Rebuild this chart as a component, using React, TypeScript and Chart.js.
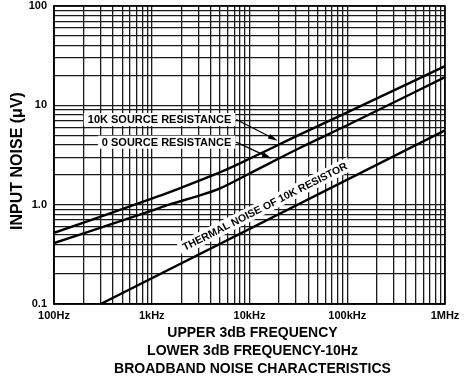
import { useEffect, useRef } from "react";
import { Chart, registerables } from "chart.js";

Chart.register(...registerables);

// ---- axis ticks ----
const freqDecades = [100, 1000, 10000, 100000, 1000000];
const freqLabels = ["100Hz", "1kHz", "10kHz", "100kHz", "1MHz"];
const noiseDecades = [0.1, 1, 10, 100];
const noiseLabels = ["0.1", "1.0", "10", "100"];

// ---- series (Hz, µV) ----
const src10kFreq = [100, 1000, 1500, 3100, 5000, 10000, 33000, 100000, 1000000];
const src10kNoise = [0.52, 1.15, 1.33, 1.76, 2.12, 2.9, 5.1, 8.5, 24.8];

const src0Freq = [100, 1000, 1500, 3100, 5000, 10000, 33000, 100000, 1000000];
const src0Noise = [0.41, 0.87, 1.0, 1.24, 1.46, 2.06, 3.74, 6.3, 19.2];

const thermalFreq = [300, 1000000];
const thermalNoise = [0.1, 5.6];

// ---- texts ----
const yTitle = "INPUT NOISE (\u03BCV)";
const xTitleLines = [
  "UPPER 3dB FREQUENCY",
  "LOWER 3dB FREQUENCY-10Hz",
  "BROADBAND NOISE CHARACTERISTICS",
];
const label10k = "10K SOURCE RESISTANCE";
const label0 = "0 SOURCE RESISTANCE";
const labelThermal = "THERMAL NOISE OF 10K RESISTOR";

// annotation anchors in data units [freq, noise]
const label10kAnchor = [6500, 7.2];
const label10kArrowTip = [19500, 4.4];
const label0Anchor = [6500, 4.26];
const label0ArrowTip = [16900, 2.9];
const thermalLabelFreq = 16500;

const FONT = '"Liberation Sans", Arial, Helvetica, sans-serif';

function logGrid(min: number, max: number): number[] {
  const out: number[] = [];
  for (let d = min; d < max * 0.999; d *= 10) {
    for (let m = 1; m <= 9; m++) out.push(+(d * m).toPrecision(6));
  }
  out.push(max);
  return out;
}

function pts(xs: number[], ys: number[]) {
  return xs.map((x, i) => ({ x, y: ys[i] }));
}

const overlay = {
  id: "overlay",
  afterDatasetsDraw(chart: any) {
    const { ctx, chartArea: a, scales } = chart;
    const xs = scales.x;
    const ys = scales.y;
    const px = (f: number) => xs.getPixelForValue(f);
    const py = (v: number) => ys.getPixelForValue(v);
    ctx.save();

    // frame
    ctx.strokeStyle = "#000";
    ctx.lineWidth = 1.6;
    ctx.strokeRect(a.left, a.top, a.right - a.left, a.bottom - a.top);

    ctx.font = `bold 11px ${FONT}`;
    ctx.fillStyle = "#000";
    ctx.textBaseline = "middle";

    const boxedLabel = (text: string, anchor: number[], tip: number[]) => {
      const x = px(anchor[0]);
      const y = py(anchor[1]);
      const w = ctx.measureText(text).width;
      ctx.fillStyle = "#fff";
      ctx.fillRect(x - w - 4, y - 6.5, w + 8, 13);
      ctx.fillStyle = "#000";
      ctx.textAlign = "right";
      ctx.fillText(text, x, y + 0.5);
      // arrow
      const sx = x + 5;
      const sy = y;
      const tx = px(tip[0]);
      const ty = py(tip[1]);
      const ang = Math.atan2(ty - sy, tx - sx);
      ctx.strokeStyle = "#000";
      ctx.lineWidth = 1.3;
      ctx.beginPath();
      ctx.moveTo(sx, sy);
      ctx.lineTo(tx - 6 * Math.cos(ang), ty - 6 * Math.sin(ang));
      ctx.stroke();
      ctx.beginPath();
      ctx.moveTo(tx, ty);
      ctx.lineTo(
        tx - 10 * Math.cos(ang) + 2.6 * Math.sin(ang),
        ty - 10 * Math.sin(ang) - 2.6 * Math.cos(ang)
      );
      ctx.lineTo(
        tx - 10 * Math.cos(ang) - 2.6 * Math.sin(ang),
        ty - 10 * Math.sin(ang) + 2.6 * Math.cos(ang)
      );
      ctx.closePath();
      ctx.fill();
    };
    boxedLabel(label10k, label10kAnchor, label10kArrowTip);
    boxedLabel(label0, label0Anchor, label0ArrowTip);

    // thermal label along its line
    ctx.font = `bold 10.5px ${FONT}`;
    const x1 = px(thermalFreq[0]);
    const y1 = py(thermalNoise[0]);
    const x2 = px(thermalFreq[thermalFreq.length - 1]);
    const y2 = py(thermalNoise[thermalNoise.length - 1]);
    const th = Math.atan2(y2 - y1, x2 - x1);
    const cx0 = px(thermalLabelFreq);
    const cy0 = y1 + ((cx0 - x1) * (y2 - y1)) / (x2 - x1);
    const off = 13;
    const cx = cx0 + off * Math.sin(th);
    const cy = cy0 - off * Math.cos(th);
    ctx.translate(cx, cy);
    ctx.rotate(th);
    const tw = ctx.measureText(labelThermal).width;
    ctx.fillStyle = "#fff";
    ctx.fillRect(-tw / 2 - 4, -7, tw + 8, 14);
    ctx.fillStyle = "#000";
    ctx.textAlign = "center";
    ctx.fillText(labelThermal, 0, 0.5);
    ctx.setTransform(1, 0, 0, 1, 0, 0);

    // y title
    ctx.save();
    ctx.font = `bold 16px ${FONT}`;
    ctx.translate(18, (a.top + a.bottom) / 2 + 6);
    ctx.rotate(-Math.PI / 2);
    ctx.textAlign = "center";
    ctx.fillText(yTitle, 0, 0);
    ctx.restore();

    // x titles
    ctx.font = `bold 14px ${FONT}`;
    ctx.textAlign = "center";
    const mx = (a.left + a.right) / 2 + 3;
    const offs = [29, 47.5, 65];
    xTitleLines.forEach((t, i) => ctx.fillText(t, mx, a.bottom + offs[i]));

    ctx.restore();
  },
};

export default function App() {
  const ref = useRef<HTMLCanvasElement | null>(null);

  useEffect(() => {
    if (!ref.current) return;
    const lineStyle = {
      borderColor: "#000",
      borderWidth: 2.4,
      pointRadius: 0,
      fill: false,
      cubicInterpolationMode: "monotone" as const,
    };
    const chart = new Chart(ref.current, {
      type: "line",
      data: {
        datasets: [
          { label: label10k, data: pts(src10kFreq, src10kNoise), ...lineStyle },
          { label: label0, data: pts(src0Freq, src0Noise), ...lineStyle },
          { label: labelThermal, data: pts(thermalFreq, thermalNoise), ...lineStyle },
        ],
      },
      options: {
        animation: false,
        responsive: false,
        layout: { padding: { top: 6, right: 24, left: 0, bottom: 0 } },
        plugins: { legend: { display: false }, tooltip: { enabled: false } },
        scales: {
          x: {
            type: "logarithmic",
            min: freqDecades[0],
            max: freqDecades[freqDecades.length - 1],
            afterBuildTicks: (s: any) => {
              s.ticks = logGrid(s.min, s.max).map((v) => ({ value: v }));
            },
            afterFit: (s: any) => {
              s.height = 76;
            },
            grid: { color: "#1a1a1a", lineWidth: 1.3, drawTicks: false },
            border: { display: true, color: "#000", width: 1.6 },
            ticks: {
              autoSkip: false,
              maxRotation: 0,
              padding: 5,
              color: "#000",
              font: { family: FONT, size: 11, weight: "bold" },
              callback: (v: any) => {
                const i = freqDecades.findIndex((d) => Math.abs(d - Number(v)) < d * 1e-6);
                return i >= 0 ? freqLabels[i] : "";
              },
            },
          },
          y: {
            type: "logarithmic",
            min: noiseDecades[0],
            max: noiseDecades[noiseDecades.length - 1],
            afterBuildTicks: (s: any) => {
              s.ticks = logGrid(s.min, s.max).map((v) => ({ value: v }));
            },
            afterFit: (s: any) => {
              s.width = 54;
              s.paddingTop = 0;
              s.paddingBottom = 0;
            },
            grid: { color: "#1a1a1a", lineWidth: 1.3, drawTicks: false },
            border: { display: true, color: "#000", width: 1.6 },
            ticks: {
              autoSkip: false,
              padding: 7,
              color: "#000",
              font: { family: FONT, size: 11, weight: "bold" },
              callback: (v: any) => {
                const i = noiseDecades.findIndex((d) => Math.abs(d - Number(v)) < d * 1e-6);
                return i >= 0 ? noiseLabels[i] : "";
              },
            },
          },
        },
      },
      plugins: [overlay],
    });
    return () => chart.destroy();
  }, []);

  return (
    <div style={{ position: "absolute", left: 0, top: 0, width: 469, height: 380, background: "#fff" }}>
      <canvas ref={ref} width={469} height={380} style={{ width: 469, height: 380 }} />
    </div>
  );
}
